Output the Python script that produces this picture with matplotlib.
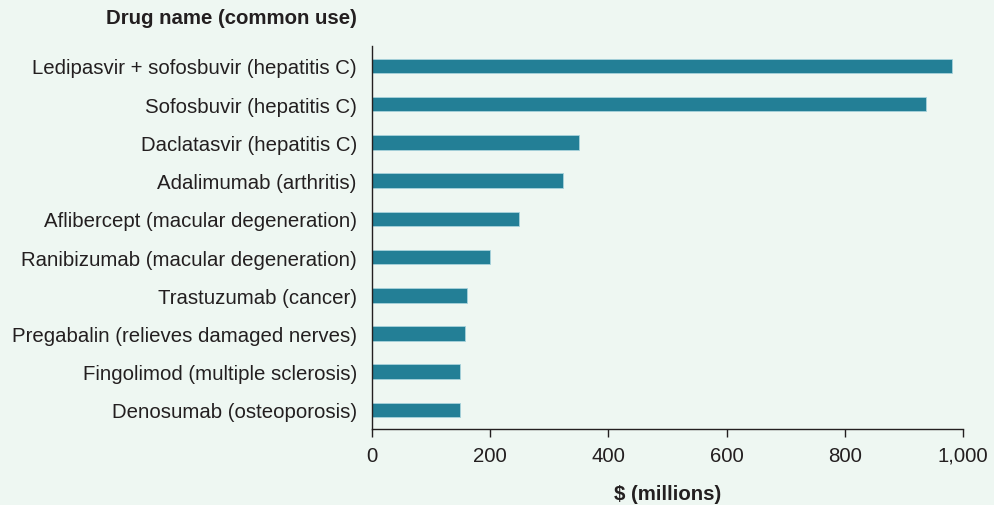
import matplotlib
matplotlib.use("Agg")
import matplotlib.pyplot as plt

drugs = [
    "Ledipasvir + sofosbuvir (hepatitis C)",
    "Sofosbuvir (hepatitis C)",
    "Daclatasvir (hepatitis C)",
    "Adalimumab (arthritis)",
    "Aflibercept (macular degeneration)",
    "Ranibizumab (macular degeneration)",
    "Trastuzumab (cancer)",
    "Pregabalin (relieves damaged nerves)",
    "Fingolimod (multiple sclerosis)",
    "Denosumab (osteoporosis)",
]
spend = [982, 938, 351, 324, 248, 200, 161, 158, 149, 149]
xticks = [0, 200, 400, 600, 800, 1000]
xtick_labels = ["0", "200", "400", "600", "800", "1,000"]

BG = "#eef7f2"
BAR = "#237f96"
TXT = "#231f20"

plt.rcParams["font.family"] = ["Liberation Sans", "DejaVu Sans"]
FS = 14.7

fig = plt.figure(figsize=(9.95, 5.06), dpi=100, facecolor=BG)
ax = fig.add_axes([0.3739, 0.150, 0.5939, 0.757], facecolor=BG)

ypos = list(range(len(drugs)))
ax.barh(ypos, spend, height=0.38, color=BAR, edgecolor="#a8d3dc", linewidth=0.6)

ax.set_ylim(9.5, -0.52)
ax.set_xlim(0, 1000)
ax.set_yticks(ypos)
ax.set_yticklabels(drugs, fontsize=FS, color=TXT)
ax.set_xticks(xticks)
ax.set_xticklabels(xtick_labels, fontsize=FS, color=TXT)
ax.tick_params(axis="y", length=0, pad=11)
ax.tick_params(axis="x", length=6, width=1, color=TXT, pad=6)

for s in ["top", "right"]:
    ax.spines[s].set_visible(False)
for s in ["left", "bottom"]:
    ax.spines[s].set_color(TXT)
    ax.spines[s].set_linewidth(1.0)

ax.set_xlabel("$ (millions)", fontsize=FS, fontweight="bold", color=TXT, labelpad=14)

fig.text(357 / 995, 1 - 18 / 506, "Drug name (common use)", ha="right", va="center",
         fontsize=FS, fontweight="bold", color=TXT)

fig.savefig("out.png", dpi=100, facecolor=BG)
